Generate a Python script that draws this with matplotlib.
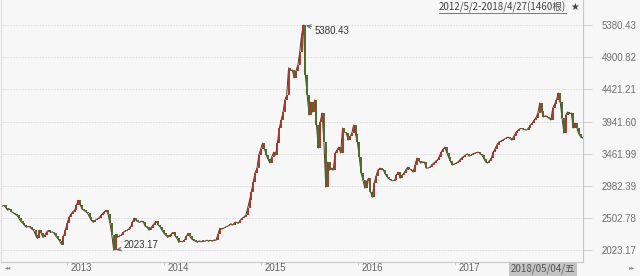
import matplotlib
matplotlib.use("Agg")
import matplotlib.pyplot as plt
import matplotlib.dates as mdates
import numpy as np
import pandas as pd

# weekly closes, 2012-05-04 .. 2018-04-27
closes = [
    2680, 2695, 2660, 2621, 2640, 2600, 2585, 2560, 2546, 2500,
    2456, 2430, 2395, 2367, 2380, 2367, 2340, 2322, 2250, 2202,
    2322, 2280, 2215, 2250, 2300, 2322, 2290, 2300, 2277, 2230,
    2200, 2160, 2110, 2230, 2322, 2430, 2516, 2560, 2600, 2621,
    2700, 2770, 2700, 2640, 2621, 2600, 2576, 2520, 2470, 2441,
    2470, 2490, 2501, 2546, 2570, 2600, 2621, 2560, 2426, 2250,
    2023.17, 2260, 2217, 2240, 2247, 2290, 2310, 2322, 2340, 2367,
    2440, 2501, 2470, 2450, 2441, 2460, 2441, 2380, 2367, 2322,
    2360, 2397, 2430, 2456, 2400, 2367, 2320, 2277, 2250, 2217,
    2240, 2270, 2292, 2240, 2202, 2143, 2160, 2150, 2173, 2230,
    2277, 2230, 2190, 2173, 2160, 2143, 2165, 2150, 2170, 2158,
    2175, 2160, 2173, 2160, 2180, 2173, 2260, 2352, 2340, 2352,
    2370, 2380, 2397, 2420, 2400, 2441, 2440, 2426, 2470, 2501,
    2520, 2546, 2650, 2770, 2900, 3039, 3180, 3248, 3442, 3530,
    3622, 3540, 3442, 3380, 3323, 3420, 3487, 3442, 3620, 3846,
    3960, 4085, 4260, 4339, 4742, 4700, 4712, 4593, 4700, 4787,
    4981, 5235, 5380.43, 4638, 4339, 4040, 4234, 4085, 4264, 3891,
    3547, 3935, 4070, 3637, 2964, 3338, 3218, 3250, 3218, 3472,
    3520, 3562, 3472, 3846, 3786, 3771, 3666, 3720, 3771, 3891,
    3750, 3637, 3412, 3173, 3069, 2949, 3050, 3099, 2900, 2815,
    3024, 3130, 3218, 3248, 3230, 3218, 3160, 3114, 3090, 3069,
    3060, 3069, 3150, 3188, 3099, 3140, 3173, 3220, 3263, 3240,
    3218, 3188, 3300, 3397, 3360, 3323, 3340, 3338, 3248, 3250,
    3263, 3300, 3323, 3350, 3368, 3420, 3487, 3530, 3562, 3480,
    3412, 3350, 3293, 3310, 3323, 3338, 3368, 3400, 3420, 3442,
    3460, 3427, 3440, 3460, 3472, 3480, 3487, 3460, 3442, 3390,
    3338, 3323, 3360, 3397, 3487, 3540, 3600, 3637, 3650, 3666,
    3680, 3700, 3711, 3690, 3666, 3720, 3771, 3800, 3831, 3840,
    3831, 3820, 3816, 3850, 3890, 3921, 3965, 4000, 4070, 4219,
    4100, 4010, 4030, 4010, 3990, 3965, 4144, 4200, 4264, 4369,
    4234, 3995, 3771, 4040, 4085, 4060, 4070, 3846, 3921, 3846,
    3760, 3711, 3696,
]
last_date = "2018-04-27"

price_ticks = [2023.17, 2502.78, 2982.39, 3461.99, 3941.60, 4421.21, 4900.82, 5380.43]
years = ["2013", "2014", "2015", "2016", "2017"]
range_title = "2012/5/2-2018/4/27(1460根)"
cursor_label = "2018/05/04/五"

BG = "#f7f7f7"
UP = "#a8362c"
DOWN = "#4e6a2c"
CJK = ["Noto Sans CJK SC", "DejaVu Sans"]

closes = np.array(closes, dtype=float)
dates = mdates.date2num(pd.date_range(end=last_date, periods=len(closes), freq="7D").to_pydatetime())
opens = np.r_[closes[0], closes[:-1]]
up = closes >= opens

fig = plt.figure(figsize=(6.4, 2.76), dpi=100, facecolor=BG)
ax = fig.add_axes([0.002, 0.0493, 0.909, 0.9507])
ax.set_facecolor(BG)

ax.plot(dates, closes, color="#4a3b22", lw=0.7, zorder=2)
ax.vlines(dates[up], opens[up], closes[up], color=UP, lw=1.4, zorder=3)
ax.vlines(dates[~up], opens[~up], closes[~up], color=DOWN, lw=1.4, zorder=3)

ax.set_xlim(mdates.datestr2num("2012-05-01"), mdates.datestr2num("2018-04-29"))
ax.set_ylim(1844.1, 5753.5)

# right price axis
ax.yaxis.tick_right()
ax.set_yticks(price_ticks)
ax.set_yticklabels([f"{v:.2f}" for v in price_ticks])
ax.tick_params(axis="y", length=6.5, width=0.6, color="#c8c8c8", pad=7,
               labelsize=7, labelcolor="#707070")
for lab in ax.get_yticklabels():
    lab.set_family("Liberation Sans")
ax.grid(axis="y", linestyle=(0, (1.5, 1.5)), color="#d8d8d8", lw=0.7)

# year ticks, labels left-aligned after the tick
year_pos = [mdates.datestr2num(f"{y}-01-04") for y in years]
ax.set_xticks(year_pos)
ax.set_xticklabels([])
ax.tick_params(axis="x", length=2.5, width=0.6, color="#c8c8c8")
xtr = ax.get_xaxis_transform()
for y, pos in zip(years, year_pos):
    ax.annotate(y, (pos, 0), xycoords=xtr, xytext=(3, -6), textcoords="offset pixels",
                ha="left", va="center", fontsize=7, color="#666666",
                family="Liberation Sans", annotation_clip=False)

ax.spines["top"].set_visible(False)
ax.spines["left"].set_color("#f3d9cc")
ax.spines["right"].set_color("#c8c8c8")
ax.spines["bottom"].set_color("#c8c8c8")
for s in ax.spines.values():
    s.set_linewidth(0.8)

# extreme labels
i_hi = int(np.argmax(closes))
i_lo = int(np.argmin(closes))
ax.annotate(f"{closes[i_hi]:.2f}", (dates[i_hi], closes[i_hi]), xytext=(11, -6),
            textcoords="offset pixels", ha="left", va="center", fontsize=7, color="#333333",
            family="Liberation Sans",
            arrowprops=dict(arrowstyle="->", color="#555555", lw=0.6, shrinkA=0, shrinkB=2))
ax.annotate(f"{closes[i_lo]:.2f}", (dates[i_lo], closes[i_lo]), xytext=(10, 5),
            textcoords="offset pixels", ha="left", va="center", fontsize=7, color="#333333",
            family="Liberation Sans",
            arrowprops=dict(arrowstyle="->", color="#555555", lw=0.6, shrinkA=0, shrinkB=2))

# header text with underline and star
t = fig.text(566 / 640, 1 - 7 / 276, range_title, ha="right", va="center",
             fontsize=7, color="#444444", family=CJK)
fig.canvas.draw()
bb = t.get_window_extent()
fig.add_artist(plt.Line2D([bb.x0 / 640, bb.x1 / 640], [(bb.y0 - 0.5) / 276] * 2,
                          color="#666666", lw=0.6))
fig.text(575 / 640, 1 - 7 / 276, "★", ha="center", va="center", fontsize=7, color="#444444")

# cursor date box
fig.text(543 / 640, 1 - 269 / 276, cursor_label, ha="center", va="center", fontsize=7,
         color="#555555", family=CJK,
         bbox=dict(boxstyle="square,pad=0.2", fc="#c4c4c4", ec="none"))

fig.text(5 / 640, 1 - 268 / 276, "◂◂", ha="left", va="center", fontsize=4.5, color="#888888")
fig.text(632 / 640, 1 - 268 / 276, "▸▸", ha="center", va="center", fontsize=4.5, color="#888888")

fig.savefig("out.png", dpi=100, facecolor=BG)
